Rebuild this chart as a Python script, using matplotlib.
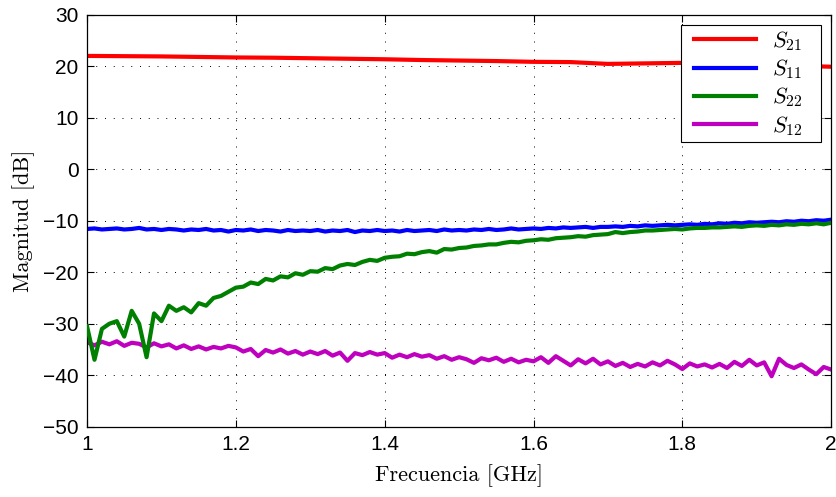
import numpy as np
import matplotlib
matplotlib.use("Agg")
import matplotlib.pyplot as plt

# frecuencias en GHz
f_s21 = [1.00, 1.05, 1.10, 1.15, 1.20, 1.25, 1.30, 1.35, 1.40, 1.45, 1.50,
         1.55, 1.60, 1.65, 1.70, 1.75, 1.80, 1.85, 1.90, 1.95, 2.00]
s21 = [22.0, 21.95, 21.9, 21.8, 21.7, 21.65, 21.55, 21.45, 21.35, 21.2, 21.1,
       21.0, 20.85, 20.8, 20.45, 20.55, 20.65, 20.5, 20.3, 20.1, 19.9]

f = [round(1.0 + 0.01 * i, 2) for i in range(101)]

s11 = [-11.6, -11.5, -11.7, -11.6, -11.5, -11.7, -11.6, -11.4, -11.7, -11.6,
       -11.8, -11.6, -11.7, -11.9, -11.7, -11.8, -11.6, -11.9, -11.8, -12.1,
       -11.8, -11.9, -11.7, -12.0, -11.8, -11.9, -12.1, -11.8, -12.0, -11.9,
       -12.0, -11.8, -12.1, -11.9, -12.0, -11.8, -12.2, -11.9, -12.0, -11.8,
       -12.0, -11.9, -12.1, -11.8, -12.0, -11.9, -11.8, -12.0, -11.7, -11.9,
       -11.8, -11.9, -11.7, -11.8, -11.6, -11.8, -11.7, -11.5, -11.7, -11.6,
       -11.5, -11.6, -11.4, -11.5, -11.3, -11.4, -11.3, -11.2, -11.4, -11.2,
       -11.2, -11.1, -11.2, -11.0, -11.1, -10.9, -11.0, -10.9, -10.8, -10.9,
       -10.8, -10.7, -10.8, -10.6, -10.7, -10.5, -10.6, -10.4, -10.5, -10.3,
       -10.4, -10.3, -10.2, -10.3, -10.1, -10.2, -10.0, -10.1, -9.9, -10.0,
       -9.8]

s22 = [-30.5, -37.0, -31.0, -30.0, -29.5, -32.5, -27.5, -30.0, -36.5, -28.0,
       -29.5, -26.5, -27.5, -26.8, -27.8, -26.0, -26.5, -25.0, -24.6, -23.8,
       -23.0, -22.8, -22.0, -22.3, -21.3, -21.6, -20.8, -21.0, -20.2, -20.5,
       -19.8, -19.9, -19.2, -19.4, -18.7, -18.4, -18.6, -18.0, -17.6, -17.8,
       -17.2, -17.0, -16.9, -16.4, -16.5, -16.1, -15.9, -16.2, -15.5, -15.6,
       -15.3, -15.2, -14.9, -14.8, -14.6, -14.6, -14.3, -14.1, -14.2, -13.9,
       -13.8, -13.6, -13.7, -13.4, -13.3, -13.2, -13.0, -13.1, -12.8, -12.7,
       -12.6, -12.2, -12.4, -12.2, -12.1, -11.9, -11.9, -11.8, -11.7, -11.6,
       -11.7, -11.5, -11.4, -11.4, -11.3, -11.3, -11.2, -11.1, -11.2, -11.0,
       -10.9, -11.0, -10.8, -10.9, -10.7, -10.8, -10.6, -10.7, -10.5, -10.7,
       -10.4]

s12 = [-33.6, -34.2, -33.5, -34.0, -33.4, -34.3, -33.7, -33.9, -34.6, -33.8,
       -34.4, -34.0, -34.8, -34.2, -34.9, -34.4, -35.0, -34.5, -34.8, -34.3,
       -34.6, -35.4, -34.9, -36.3, -35.1, -35.6, -35.0, -35.8, -35.3, -36.0,
       -35.4, -35.9, -35.3, -36.2, -35.6, -37.2, -35.7, -36.1, -35.5, -36.0,
       -35.7, -36.6, -36.0, -36.5, -35.9, -36.4, -36.1, -36.8, -36.3, -37.0,
       -36.5, -36.9, -37.6, -36.7, -37.1, -36.6, -37.4, -36.8, -37.5, -37.0,
       -37.3, -36.5, -37.6, -36.3, -37.2, -38.1, -36.9, -37.7, -36.8, -37.9,
       -37.3, -38.2, -37.6, -38.4, -37.8, -38.3, -37.5, -38.1, -37.2, -37.9,
       -38.8, -37.7, -38.3, -37.9, -38.5, -37.8, -38.6, -37.4, -38.2, -37.0,
       -38.1, -37.5, -40.2, -36.8, -38.0, -38.6, -37.9, -38.9, -39.8, -38.4,
       -38.9]

plt.rcParams['mathtext.fontset'] = 'cm'
plt.rcParams['font.family'] = ['Liberation Sans', 'DejaVu Sans']

fig = plt.figure(figsize=(8.37, 4.97), dpi=100)
ax = fig.add_axes([0.104, 0.1414, 0.889, 0.8290])

lw = 3.0
ax.plot(f_s21, s21, color='#ff0000', lw=lw, label='$S_{21}$   ')
ax.plot(f, s11, color='#0000ff', lw=lw, label='$S_{11}$   ')
ax.plot(f, s22, color='#008000', lw=lw, label='$S_{22}$   ', zorder=3)
ax.plot(f, s12, color='#bf00bf', lw=lw, label='$S_{12}$   ', zorder=2.5)

ax.set_xlim(1, 2)
ax.set_ylim(-50, 30)
ax.set_xticks([1, 1.2, 1.4, 1.6, 1.8, 2])
ax.set_xticklabels(['1', '1.2', '1.4', '1.6', '1.8', '2'])
ax.set_yticks(range(-50, 31, 10))
ax.tick_params(direction='in', top=True, right=True, length=5, width=0.8,
               labelsize=15, pad=6)
ax.grid(True, color='black', linestyle=(0, (1, 8)), linewidth=0.7)
for s in ax.spines.values():
    s.set_linewidth(0.9)

ax.set_xlabel('Frecuencia [GHz]', fontname='cmr10', fontsize=16, labelpad=7)
ax.set_ylabel('Magnitud [dB]', fontname='cmr10', fontsize=16, labelpad=6)

leg = ax.legend(loc='upper right', fontsize=16, handlelength=3.2,
                fancybox=False, edgecolor='black', framealpha=1,
                borderaxespad=0.45, labelspacing=0.2, borderpad=0.2,
                handletextpad=0.7)
leg.get_frame().set_linewidth(0.8)
# dejar un margen a la izquierda de cada muestra de linea
for ln in leg.get_lines():
    ln.set_linewidth(3.0)
    xd = np.asarray(ln.get_xdata(), dtype=float)
    ln.set_xdata(np.linspace(xd[0] + 6.5, xd[-1], len(xd)))

fig.savefig('out.png', dpi=100)
